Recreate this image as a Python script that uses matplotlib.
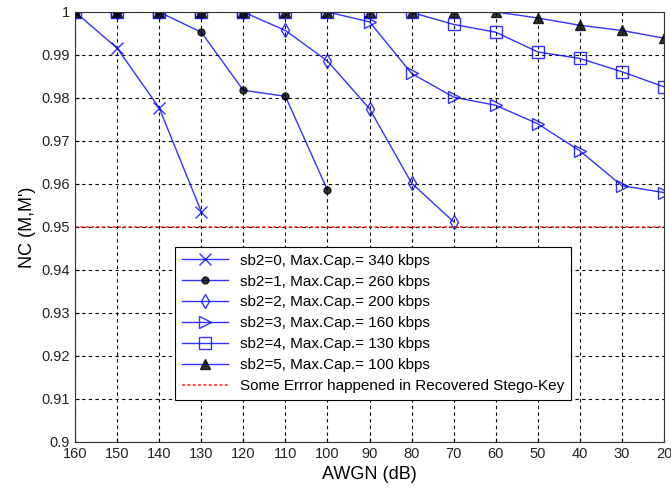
import matplotlib.pyplot as plt

plt.rcParams['font.family'] = ['Liberation Sans', 'DejaVu Sans']

awgn = [160, 150, 140, 130, 120, 110, 100, 90, 80, 70, 60, 50, 40, 30, 20]

# NC values per sb2 setting (series stop once the key is lost)
nc_sb0 = [1.0, 0.9916, 0.9777, 0.9536]
nc_sb1 = [1.0, 1.0, 1.0, 0.9953, 0.9818, 0.9804, 0.9586]
nc_sb2 = [1.0, 1.0, 1.0, 1.0, 1.0, 0.9957, 0.9886, 0.9775, 0.9602, 0.9512]
nc_sb3 = [1.0, 1.0, 1.0, 1.0, 1.0, 1.0, 1.0, 0.9977, 0.9857, 0.9802, 0.9783,
          0.9740, 0.9677, 0.9596, 0.9580]
nc_sb4 = [1.0, 1.0, 1.0, 1.0, 1.0, 1.0, 1.0, 1.0, 0.9999, 0.9971, 0.9953,
          0.9907, 0.9892, 0.9861, 0.9826]
nc_sb5 = [1.0, 1.0, 1.0, 1.0, 1.0, 1.0, 1.0, 1.0, 1.0, 1.0, 1.0,
          0.9986, 0.9969, 0.9957, 0.9939]
threshold = 0.95

labels = ['sb2=0, Max.Cap.= 340 kbps', 'sb2=1, Max.Cap.= 260 kbps',
          'sb2=2, Max.Cap.= 200 kbps', 'sb2=3, Max.Cap.= 160 kbps',
          'sb2=4, Max.Cap.= 130 kbps', 'sb2=5, Max.Cap.= 100 kbps']
err_label = 'Some Errror happened in Recovered Stego-Key'

fig = plt.figure(figsize=(6.71, 4.91), dpi=100)
ax = fig.add_axes([0.1118, 0.0998, 0.8778, 0.8758])

blue = '#0000ff'
series = [nc_sb0, nc_sb1, nc_sb2, nc_sb3, nc_sb4, nc_sb5]
styles = [
    dict(marker='x', mfc=blue, mec=blue, ms=8),
    dict(marker='o', mfc='black', mec='black', ms=5),
    dict(marker='d', mfc='none', mec=blue, ms=7),
    dict(marker='>', mfc='none', mec=blue, ms=8),
    dict(marker='s', mfc='none', mec=blue, ms=8),
    dict(marker='^', mfc='black', mec='black', ms=7),
]
for vals, st, lab in zip(series, styles, labels):
    ax.plot(awgn[:len(vals)], vals, color=blue, lw=1, alpha=0.8, label=lab, **st)

ax.axhline(threshold, color='#ff2020', ls=(0, (2, 1.5)), lw=1.1, label=err_label)

ax.set_xlim(160, 20)
ax.set_ylim(0.9, 1.0)
ax.set_xticks(awgn)
ax.set_xticklabels([str(v) for v in awgn])
yt = [0.9 + 0.01 * i for i in range(11)]
ax.set_yticks(yt)
ax.set_yticklabels(['0.9', '0.91', '0.92', '0.93', '0.94', '0.95', '0.96', '0.97',
                    '0.98', '0.99', '1'])
ax.grid(True, color='black', ls=(0, (3, 3)), lw=0.8)
ax.tick_params(direction='in', labelsize=10.5, length=3, labelcolor='#222222')
for s in ax.spines.values():
    s.set_color('#333333')
ax.set_xlabel('AWGN (dB)', fontsize=13)
ax.set_ylabel("NC (M,M')", fontsize=13)

leg = ax.legend(loc='lower left', bbox_to_anchor=(0.17, 0.098), fontsize=11,
                handlelength=3.0, framealpha=1, fancybox=False, edgecolor='black',
                borderpad=0.45, labelspacing=0.45, borderaxespad=0)
leg.get_frame().set_linewidth(0.8)

plt.savefig('out.png', dpi=100)
